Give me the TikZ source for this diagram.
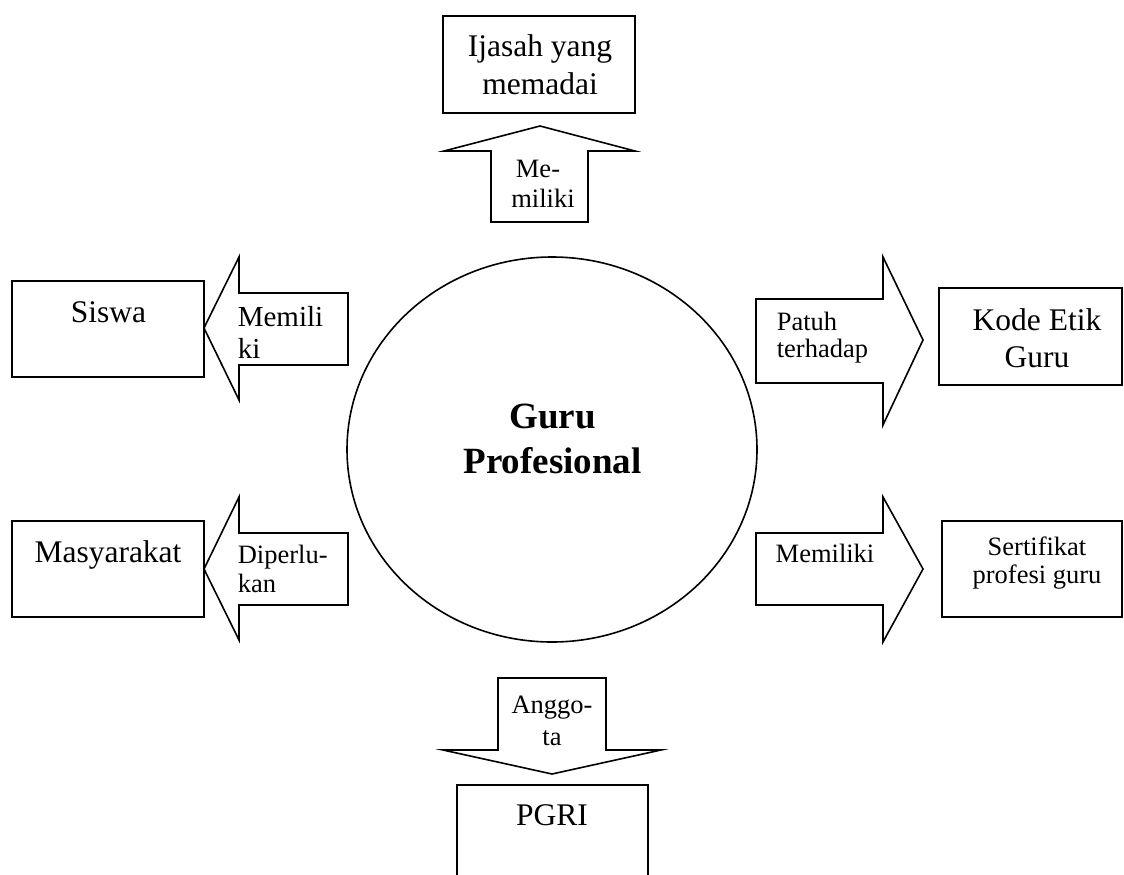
\documentclass[tikz,border=0pt]{standalone}
\usepackage{fontspec}
\usetikzlibrary{shapes.geometric}
\setmainfont{Liberation Serif}
\begin{document}
\begin{tikzpicture}[x=1pt,y=-1pt, line width=1.6pt,
  box/.style={draw, rectangle, inner sep=0pt},
  txt/.style={anchor=base, inner sep=0pt, font=\fontsize{31.5}{35}\selectfont},
  atxt/.style={anchor=base, inner sep=0pt, font=\fontsize{26.5}{30}\selectfont},
  atxtl/.style={anchor=base west, inner sep=0pt, font=\fontsize{26.5}{30}\selectfont},
  barrow/.style={draw, line join=miter}]
\useasboundingbox (0,0) rectangle (1124,875);
\clip (0,0) rectangle (1124,875);

% centre
\node[draw, ellipse, minimum width=410pt, minimum height=385pt, inner sep=0pt] (guru) at (552,449.5) {};
\node[anchor=base, inner sep=0pt, font=\fontsize{37}{45}\selectfont\bfseries] (g1) at (552.5,428) {Guru};
\node[anchor=base, inner sep=0pt, font=\fontsize{37}{45}\selectfont\bfseries] (g2) at (552.5,473) {Profesional};

% boxes
\node[box, minimum width=192pt, minimum height=97pt] (ijasah) at (539,64.5) {};
\node[box, minimum width=192pt, minimum height=96pt] (siswa) at (108,329) {};
\node[box, minimum width=192pt, minimum height=96pt] (masy) at (108,569) {};
\node[box, minimum width=183pt, minimum height=97pt] (kode) at (1030.5,336.5) {};
\node[box, minimum width=180pt, minimum height=96pt] (sert) at (1032,569) {};
\node[box, minimum width=191pt, minimum height=110pt] (pgri) at (552.5,840) {};

% box texts
\node[txt] (t1a) at (540,57) {Ijasah yang};
\node[txt] (t1b) at (540,94) {memadai};
\node[txt] (t2) at (108.5,322) {Siswa};
\node[txt] (t3) at (108,562) {Masyarakat};
\node[txt] (t4a) at (1037,330) {Kode Etik};
\node[txt] (t4b) at (1037,367) {Guru};
\node[atxt] (t5a) at (1037,555) {Sertifikat};
\node[atxt] (t5b) at (1037,583) {profesi guru};
\node[txt] (t6) at (552,825) {PGRI};

% block arrows
\draw[barrow] (491,222) -- (491,151) -- (444,151) -- (540,126) -- (635,151) -- (588,151) -- (588,222) -- cycle;
\draw[barrow] (348,293) -- (239,293) -- (239,257) -- (204,328) -- (239,400) -- (239,365) -- (348,365) -- cycle;
\draw[barrow] (348,533) -- (239,533) -- (239,497) -- (204,569) -- (239,640) -- (239,605) -- (348,605) -- cycle;
\draw[barrow] (756,299) -- (883,299) -- (883,257) -- (923,340) -- (883,425) -- (883,383) -- (756,383) -- cycle;
\draw[barrow] (756,533) -- (883,533) -- (883,497) -- (923,569) -- (883,642) -- (883,605) -- (756,605) -- cycle;
\draw[barrow] (498,678) -- (606,678) -- (606,750) -- (661,750) -- (552,774) -- (443,750) -- (498,750) -- cycle;

% arrow texts
\node[atxt] (a1a) at (538,177) {Me-};
\node[atxt] (a1b) at (543,207) {miliki};
\node[anchor=base west, inner sep=0pt, font=\fontsize{29}{33}\selectfont] (a2a) at (237,326) {Memili};
\node[anchor=base west, inner sep=0pt, font=\fontsize{29}{33}\selectfont] (a2b) at (237,358) {ki};
\node[atxtl] (a3a) at (237,563) {Diperlu-};
\node[atxtl] (a3b) at (237,592) {kan};
\node[atxtl] (a4a) at (776,330) {Patuh};
\node[atxtl] (a4b) at (776,357) {terhadap};
\node[atxt] (a5) at (825,562) {Memiliki};
\node[atxt] (a6a) at (552,713) {Anggo-};
\node[atxt] (a6b) at (552,745) {ta};
\end{tikzpicture}
\end{document}
